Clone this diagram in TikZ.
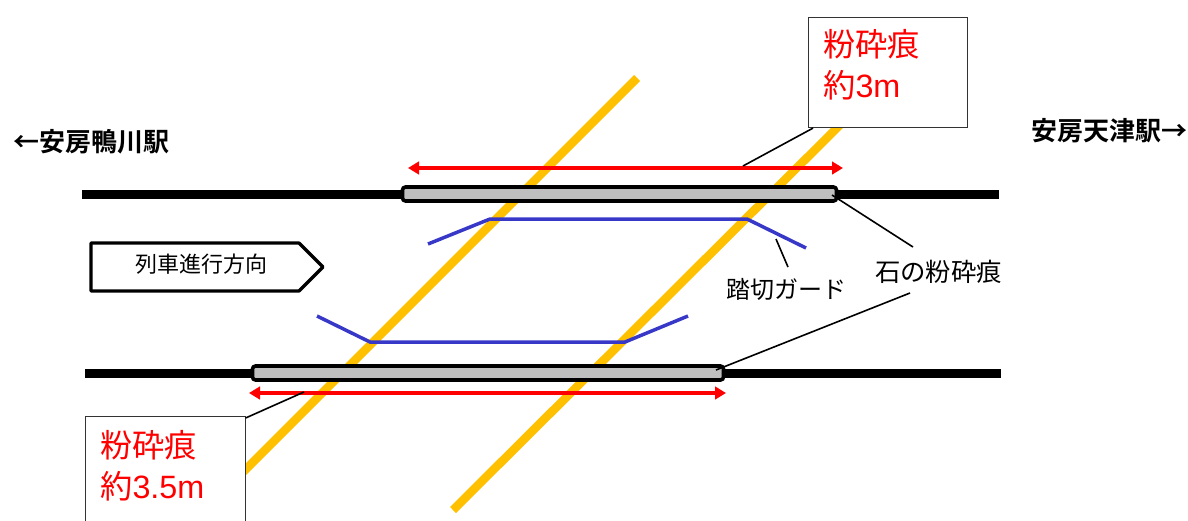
\documentclass[tikz,border=0pt]{standalone}
\usepackage{fontspec}
\setmainfont{Liberation Sans}
\newfontfamily\jp{Noto Sans CJK JP}
\newfontfamily\jpb{Noto Sans CJK JP Bold}
\usetikzlibrary{arrows.meta,shapes.geometric}
\definecolor{yel}{HTML}{FFC000}
\definecolor{gry}{HTML}{BFBFBF}
\definecolor{blu}{HTML}{3838C8}
\tikzset{
  x=1pt,y=-1pt,
  crossing/.style={line width=8.5pt,draw=yel},
  rail/.style={line width=9pt,draw=black},
  mark box/.style={rounded corners=3pt,draw=black,line width=3.6pt,fill=gry},
  guard/.style={line width=3.5pt,draw=blu},
  span/.style={line width=3.8pt,draw=red,{Triangle[length=11pt,width=12.5pt]}-{Triangle[length=11pt,width=12.5pt]}},
  lead/.style={line width=1.6pt,draw=black},
  callbox/.style={draw=black!80,line width=1.1pt,fill=white},
  redtext/.style={text=red,font=\fontsize{32.3}{38}\selectfont,inner sep=0pt,anchor=west},
  label/.style={inner sep=0pt,font=\jp\fontsize{25.4}{28}\selectfont},
  station/.style={inner sep=0pt,font=\jpb\fontsize{26}{28}\selectfont},
}
\begin{document}
\begin{tikzpicture}
\useasboundingbox (0,0) rectangle (1188,520);
% crossings
\coordinate (y1a) at (637,78);  \coordinate (y1b) at (200,515);
\coordinate (y2a) at (860,105); \coordinate (y2b) at (453,510);
\draw[crossing] (y1a) -- (y1b);
\draw[crossing] (y2a) -- (y2b);
% rails
\coordinate (r1a) at (82,194);  \coordinate (r1b) at (999,194);
\coordinate (r2a) at (85,373);  \coordinate (r2b) at (1001,373);
\draw[rail] (r1a) -- (r1b);
\draw[rail] (r2a) -- (r2b);
% stone marks
\path[mark box] (402.5,187) rectangle (836.5,201);
\path[mark box] (252.5,366) rectangle (723.5,380);
% guards
\coordinate (g1a) at (428,244); \coordinate (g1b) at (490,219); \coordinate (g1c) at (747,219); \coordinate (g1d) at (806,248);
\coordinate (g2a) at (317,316); \coordinate (g2b) at (370,342); \coordinate (g2c) at (625,342); \coordinate (g2d) at (688,316);
\draw[guard] (g1a) -- (g1b) -- (g1c) -- (g1d);
\draw[guard] (g2a) -- (g2b) -- (g2c) -- (g2d);
% red spans
\coordinate (s1a) at (408,168); \coordinate (s1b) at (843,168);
\coordinate (s2a) at (249,393); \coordinate (s2b) at (726,393);
\draw[span] (s1a) -- (s1b);
\draw[span] (s2a) -- (s2b);
% direction arrow
\draw[line width=3.2pt,line join=round,fill=white] (91,243) -- (299,243) -- (323,267) -- (299,291) -- (91,291) -- cycle;
\node[inner sep=0pt,font=\jp\fontsize{22}{26}\selectfont] (dir) at (201,264) {列車進行方向};
% callouts
\node[callbox,minimum width=159pt,minimum height=110pt,inner sep=0pt,anchor=north west] (box1) at (808,17) {};
\node[callbox,minimum width=159.5pt,minimum height=112pt,inner sep=0pt,anchor=north west] (box2) at (85,416) {};
\node[redtext] (t1a) at (823,44) {\jp 粉砕痕};
\node[redtext] (t1b) at (823,85) {{\jp 約}3m};
\node[redtext] (t2a) at (100,445) {\jp 粉砕痕};
\node[redtext] (t2b) at (100,486) {{\jp 約}3.5m};
\coordinate (c1) at (743,166);
\coordinate (c2) at (304,392);
\draw[lead] (box1.south west) ++(5,0) coordinate (c1s) -- (c1);
\draw[lead] (box2.north east) ++(0,2) coordinate (c2s) -- (c2);
% labels
\node[label] (stone) at (938.5,272) {石の粉砕痕};
\node[label,font=\jp\fontsize{24}{28}\selectfont] (guardl) at (786,289) {踏切ガード};
\coordinate (m1) at (832,195);
\coordinate (m2) at (716,370);
\coordinate (sl1) at (913,247);
\coordinate (sl2) at (910,293);
\coordinate (gl1) at (776,239);
\coordinate (gl2) at (788,267);
\draw[lead] (m1) -- (sl1);
\draw[lead] (m2) -- (sl2);
\draw[lead] (gl1) -- (gl2);
% stations
\node[station] (west) at (91,142) {←安房鴨川駅};
\node[station] (east) at (1109,131) {安房天津駅→};
\end{tikzpicture}
\end{document}
